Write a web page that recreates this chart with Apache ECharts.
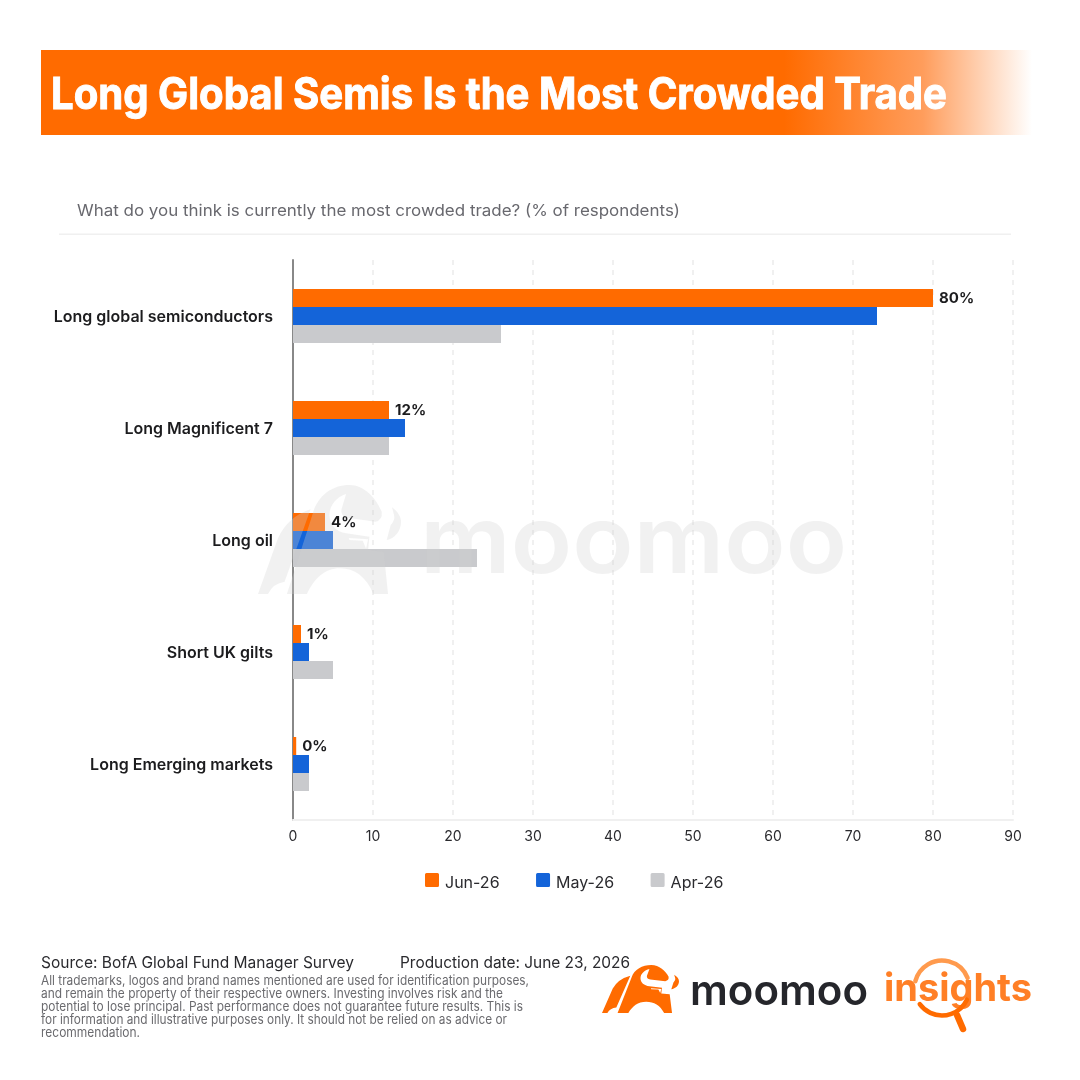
<!DOCTYPE html>
<html>
<head>
<meta charset="utf-8">
<style>html,body{margin:0;padding:0;background:#fff}#chart{width:1080px;height:1080px}</style>
<script src="https://cdn.jsdelivr.net/npm/echarts@6/dist/echarts.min.js"></script>
</head>
<body>
<div id="chart"></div>
<script>
// Survey results, % of respondents
const categories = ['Long global semiconductors', 'Long Magnificent 7', 'Long oil', 'Short UK gilts', 'Long Emerging markets'];
const jun26 = [80, 12, 4, 1, 0.4];
const may26 = [73, 14, 5, 2, 2];
const apr26 = [26, 12, 23, 5, 2];

const titleText = 'Long Global Semis Is the Most Crowded Trade';
const subtitleText = 'What do you think is currently the most crowded trade? (% of respondents)';
const sourceText = 'Source: BofA Global Fund Manager Survey';
const dateText = 'Production date: June 23, 2026';
const disclaimerLines = [
  'All trademarks, logos and brand names mentioned are used for identification purposes,',
  'and remain the property of their respective owners. Investing involves risk and the',
  'potential to lose principal. Past performance does not guarantee future results. This is',
  'for information and illustrative purposes only. It should not be relied on as advice or',
  'recommendation.'
];
const disclaimerRight = [529, 503, 523, 507, 140];

const ORANGE = '#ff6b00', BLUE = '#1464d9', GREY = '#c9cacd';
const FONT = 'Inter';

// Horizontal scale that makes a string span a given pixel width in a given font
const ctx = document.createElement('canvas').getContext('2d');
function fit(text, font, width) { ctx.font = font; return width / ctx.measureText(text).width; }

function fittedText(text, font, fill, left, right, midY, z, extra) {
  return {
    type: 'text', x: left, y: midY, scaleX: fit(text, font, right - left), z: z, silent: true,
    style: Object.assign({ text: text, font: font, fill: fill, align: 'left', verticalAlign: 'middle' }, extra || {})
  };
}

// Bull emblem, in its own drawing units (x 25..455, y 45..372)
const bullPath =
  'M25 372 L85 205 Q115 140 183 118 L105 335 Q70 340 55 372 Z ' +
  'M112 372 L190 130 C205 75 250 45 300 45 C345 45 380 85 397 125 Q400 150 378 155 L295 143 ' +
  'Q272 138 276 118 L290 72 C262 80 240 105 240 135 C240 165 260 185 290 190 L360 200 L356 240 ' +
  'L403 245 L416 372 L372 372 C350 320 315 295 272 295 C225 295 195 325 172 372 Z ' +
  'M298 204 L300 210 L340 212 L350 236 L356 208 Z ' +
  'M428 112 C445 125 455 140 455 155 C455 185 435 205 412 210 L424 165 Q438 150 434 135 Z';
echarts.graphic.registerShape('bullMark', echarts.graphic.extendPath(bullPath));

// Legend swatch: a rounded square in the upper part of a taller box, so the text sits slightly lower
const legendIcon = 'path://M1.5 0 H12.5 Q14 0 14 1.5 V12.5 Q14 14 12.5 14 H1.5 Q0 14 0 12.5 V1.5 Q0 0 1.5 0 Z M0 20 L14 20';

function bull(left, top, width, height, fill, z) {
  const sx = width / 430, sy = height / 327;
  return { type: 'bullMark', x: left - 25 * sx, y: top - 45 * sy, scaleX: sx, scaleY: sy, z: z, silent: true,
    style: { fill: fill } };
}

function lens(startAngle, endAngle, stroke) {
  return { type: 'arc', z: 5, silent: true,
    shape: { cx: 942, cy: 988, r: 27.5, startAngle: startAngle, endAngle: endAngle },
    style: { stroke: stroke, lineWidth: 4.5, fill: 'none', lineCap: 'round' } };
}

const WATERMARK = 'rgba(210,210,210,0.3)';

const graphics = [
  // Header band fading out to the right
  { type: 'rect', z: 1, silent: true, shape: { x: 41, y: 50, width: 991, height: 85 },
    style: { fill: new echarts.graphic.LinearGradient(0, 0, 1, 0, [
      { offset: 0, color: ORANGE }, { offset: 0.75, color: ORANGE },
      { offset: 0.89, color: '#ff9d5c' }, { offset: 1, color: '#ffffff' }]) } },
  fittedText(titleText, '700 44px ' + FONT, '#ffffff', 51, 947, 95.5, 2, { stroke: '#ffffff', lineWidth: 1 }),
  fittedText(subtitleText, '400 16px ' + FONT, '#68686e', 77, 680, 211, 2),
  { type: 'rect', z: 1, silent: true, shape: { x: 59, y: 233.5, width: 952, height: 1.5 }, style: { fill: '#f0f0f0' } },

  // Footer
  fittedText(sourceText, '400 16px ' + FONT, '#2a2a2e', 41, 354, 963, 2),
  fittedText(dateText, '400 16px ' + FONT, '#2a2a2e', 400, 630, 963, 2),
  ...disclaimerLines.map((line, i) =>
    fittedText(line, '400 13px ' + FONT, '#6a6a6e', 41, disclaimerRight[i], 981.5 + 13 * i, 2)),

  // Brand marks
  bull(602, 965, 77, 48, ORANGE, 5),
  fittedText('moomoo', '600 42px ' + FONT, '#25262b', 690, 868, 992, 5),
  fittedText('insights', '700 38px ' + FONT, '#ff7f26', 884, 1032, 990, 5),
  lens(Math.PI * 1.08, Math.PI * 1.88, '#ff9a4d'),
  lens(Math.PI * 0.14, Math.PI * 0.8, ORANGE),
  { type: 'line', z: 5, silent: true, shape: { x1: 957, y1: 1015, x2: 963, y2: 1029 },
    style: { stroke: ORANGE, lineWidth: 6.5, lineCap: 'round' } },

  // Watermark laid over the plot
  bull(258, 485, 143, 109, WATERMARK, 100),
  fittedText('moomoo', '600 94px ' + FONT, WATERMARK, 420, 847, 545, 100)
];

function barSeries(name, data, color, labelled) {
  return {
    name: name, type: 'bar', data: data, barWidth: 18, barGap: 0,
    itemStyle: { color: color },
    label: {
      show: labelled, position: 'right', distance: 6,
      formatter: p => Math.round(p.value) + '%',
      fontFamily: FONT, fontWeight: 700, fontSize: 15, color: '#1c1c1e'
    }
  };
}

const chart = echarts.init(document.getElementById('chart'), null, { renderer: 'canvas' });
chart.setOption({
  animation: false,
  backgroundColor: '#ffffff',
  grid: { left: 293, right: 67, top: 260, bottom: 260, containLabel: false },
  legend: {
    left: 420, top: 868, itemWidth: 14, itemHeight: 20, itemGap: 36.5,
    icon: legendIcon, selectedMode: false,
    textStyle: { fontFamily: FONT, fontSize: 16, color: '#2a2a2e', padding: [0, 0, 0, 1] }
  },
  xAxis: {
    type: 'value', min: 0, max: 90, interval: 10,
    axisLine: { show: true, lineStyle: { color: '#f0f0f0', width: 2 } },
    axisTick: { show: false },
    axisLabel: { fontFamily: FONT, fontSize: 14, color: '#2a2a2e', margin: 10 },
    splitLine: { show: true, lineStyle: { color: '#f0f0f0', width: 2, type: [5, 5] } }
  },
  yAxis: {
    type: 'category', data: categories, inverse: true,
    axisLine: { show: true, lineStyle: { color: '#888888', width: 2 } },
    axisTick: { show: false },
    axisLabel: { fontFamily: FONT, fontSize: 16, fontWeight: 600, color: '#1c1c1e', margin: 20, verticalAlign: 'top', lineHeight: 2 }
  },
  series: [
    barSeries('Jun-26', jun26, ORANGE, true),
    barSeries('May-26', may26, BLUE, false),
    barSeries('Apr-26', apr26, GREY, false)
  ],
  graphic: { elements: graphics }
});
</script>
</body>
</html>
